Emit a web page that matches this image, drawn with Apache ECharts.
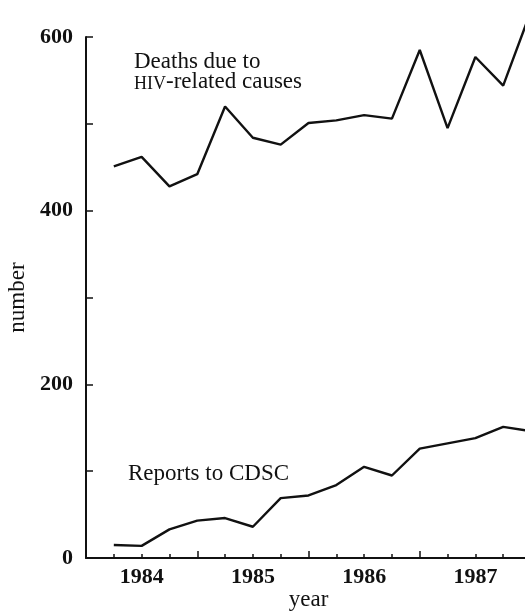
<!DOCTYPE html>
<html>
<head>
<meta charset="utf-8">
<style>
  html, body { margin: 0; padding: 0; background: #fff; }
  #chart { width: 525px; height: 611px; }
</style>
<script src="https://cdn.jsdelivr.net/npm/echarts@6/dist/echarts.min.js"></script>
</head>
<body>
<div id="chart"></div>
<script>
// Quarterly time points (decimal years)
const quarters = [1983.75, 1984.0, 1984.25, 1984.5, 1984.75, 1985.0, 1985.25, 1985.5,
                  1985.75, 1986.0, 1986.25, 1986.5, 1986.75, 1987.0, 1987.25, 1987.5];
// Deaths due to HIV-related causes, per quarter
const deaths = [451, 462, 428, 442, 520, 484, 476, 501, 504, 510, 506, 585, 495, 577, 544, 630];
// Reports to CDSC, per quarter
const reports = [15, 14, 33, 43, 46, 36, 69, 72, 84, 105, 95, 126, 132, 138, 151, 146];
// Labelled y ticks
const yLabelled = [0, 200, 400, 600];

const FONT = '"Liberation Serif", "Times New Roman", serif';
const ink = '#111';

const pairs = (vals) => quarters.map((q, i) => [q, vals[i]]);

const chart = echarts.init(document.getElementById('chart'), null, { renderer: 'canvas' });

chart.setOption({
  backgroundColor: '#fff',
  animation: false,
  grid: { left: 86, top: 37, width: 445, bottom: 53, containLabel: false, outerBoundsMode: 'none' },
  xAxis: [
    {
      type: 'value', min: 1983.5, max: 1987.5, interval: 1,
      position: 'bottom',
      axisLine: { show: true, onZero: false, lineStyle: { color: ink, width: 2 } },
      axisTick: { show: true, inside: true, length: 7, lineStyle: { color: ink, width: 1.5 } },
      minorTick: { show: true, splitNumber: 4, length: 4, lineStyle: { color: ink, width: 1.5 } },
      axisLabel: { show: false },
      splitLine: { show: false },
      minorSplitLine: { show: false }
    },
    {
      type: 'value', min: 1983.5, max: 1987.5, interval: 0.5,
      position: 'bottom',
      axisLine: { show: false, onZero: false },
      axisTick: { show: false },
      splitLine: { show: false },
      axisLabel: {
        show: true, margin: 8, color: ink,
        fontFamily: FONT, fontSize: 22, fontWeight: 'bold',
        formatter: (v) => (Math.abs(v - Math.round(v)) < 1e-6 ? String(Math.round(v)) : '')
      },
      name: 'year', nameLocation: 'middle', nameGap: 30, nameMoveOverlap: false,
      nameTextStyle: { color: ink, fontFamily: FONT, fontSize: 23 }
    }
  ],
  yAxis: {
    type: 'value', min: 0, max: 600, interval: 100,
    axisLine: { show: true, onZero: false, lineStyle: { color: ink, width: 2 } },
    axisTick: { show: true, inside: true, length: 7, lineStyle: { color: ink, width: 1.5 } },
    splitLine: { show: false },
    axisLabel: {
      show: true, margin: 13, color: ink,
      fontFamily: FONT, fontSize: 22, fontWeight: 'bold',
      formatter: (v) => (yLabelled.includes(v) ? String(v) : '')
    },
    name: 'number', nameLocation: 'middle', nameGap: 51,
    nameTextStyle: { color: ink, fontFamily: FONT, fontSize: 23 }
  },
  series: [
    {
      name: 'Deaths due to HIV-related causes',
      type: 'line', xAxisIndex: 0, data: pairs(deaths),
      symbol: 'none', clip: false,
      lineStyle: { color: ink, width: 2.4 }
    },
    {
      name: 'Reports to CDSC',
      type: 'line', xAxisIndex: 0, data: pairs(reports),
      symbol: 'none', clip: false,
      lineStyle: { color: ink, width: 2.4 }
    }
  ],
  graphic: [
    {
      type: 'text', left: 134, top: 50,
      style: { text: 'Deaths due to', fill: ink, font: '23px ' + FONT }
    },
    {
      type: 'text', left: 134, top: 70,
      style: {
        text: '{sc|HIV}{n|-related causes}',
        fill: ink,
        rich: {
          sc: { fontFamily: FONT, fontSize: 18, fill: ink, verticalAlign: 'bottom' },
          n: { fontFamily: FONT, fontSize: 23, fill: ink, verticalAlign: 'bottom' }
        }
      }
    },
    {
      type: 'text', left: 128, top: 462,
      style: { text: 'Reports to CDSC', fill: ink, font: '23px ' + FONT }
    }
  ]
});
</script>
</body>
</html>
